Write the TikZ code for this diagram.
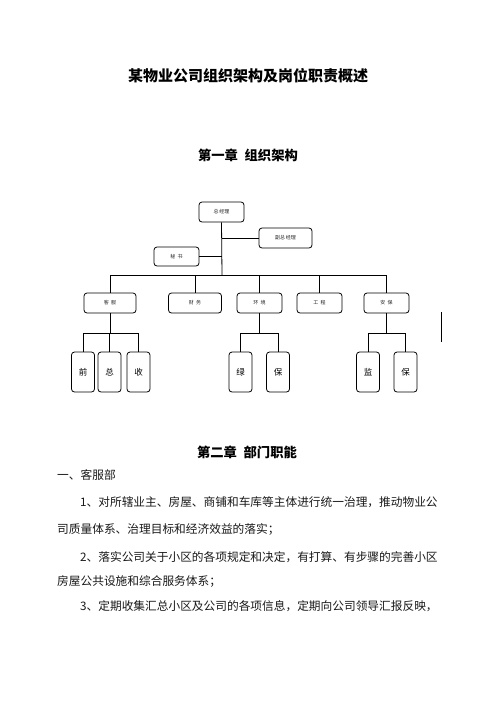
\documentclass[tikz,border=0pt]{standalone}
\usepackage{fontspec}
\newfontfamily\cjk{Noto Sans CJK SC}
\begin{document}
\begin{tikzpicture}[x=1pt,y=-1pt,
  box/.style={draw=black,line width=0.8pt,rounded corners=3pt,inner sep=0pt,font=\cjk\fontsize{5}{6}\selectfont,text=black!85},
  kid/.style={draw=black,line width=0.8pt,rounded corners=3pt,inner sep=0pt,minimum width=23pt,minimum height=40pt,font=\cjk\fontsize{8.5}{10}\selectfont},
  conn/.style={line width=0.8pt,draw=black},
  body/.style={anchor=west,inner sep=0pt,font=\cjk\fontsize{11.7}{14}\selectfont,text=black!90},
  head/.style={inner sep=0pt,font=\cjk\bfseries\fontsize{13.3}{16}\selectfont}]
\useasboundingbox (0,0) rectangle (496,702);
\fill[white] (0,0) rectangle (496,702);
% titles
\node[inner sep=0pt,font=\cjk\bfseries\fontsize{15}{18}\selectfont] (title) at (248,76) {某物业公司组织架构及岗位职责概述};
\node[head] (ch1) at (248,155) {第一章\hspace{0.5em}组织架构};
% top level
\node[box,minimum width=45pt,minimum height=20pt] (gm) at (221.5,212) {\raisebox{-4pt}{总\,经理}};
\node[box,minimum width=53pt,minimum height=20pt] (dgm) at (285.5,238) {\raisebox{-4pt}{副总\,经理}};
\node[box,minimum width=45pt,minimum height=19pt] (sec) at (176.5,256.5) {\raisebox{-3pt}{秘\ \ 书}};
\coordinate (bus) at (222,275);
\draw[conn] (gm.south) -- (bus);
\draw[conn] (gm.south |- dgm.west) -- (dgm.west);
\draw[conn] (sec.east) -- (gm.south |- sec.east);
% departments
\node[box,minimum width=52pt,minimum height=20pt] (d1) at (110,303) {\raisebox{-4pt}{客\ \ 服}};
\node[box,minimum width=53pt,minimum height=20pt] (d2) at (195,303) {\raisebox{-4pt}{财\ \ 务}};
\node[box,minimum width=45pt,minimum height=20pt] (d3) at (259.5,303) {\raisebox{-4pt}{环\ \ 境}};
\node[box,minimum width=45pt,minimum height=20pt] (d4) at (319.5,303) {\raisebox{-4pt}{工\ \ 程}};
\node[box,minimum width=45pt,minimum height=20pt] (d5) at (386.5,303) {\raisebox{-4pt}{安\ \ 保}};
\draw[conn] (d1.north |- bus) -- (d5.north |- bus);
\foreach \d in {d1,d2,d3,d4,d5} \draw[conn] (\d.north |- bus) -- (\d.north);
% children
\node[kid] (c11) at (83,372) {前};
\node[kid] (c12) at (109.5,372) {总};
\node[kid] (c13) at (138.5,372) {收};
\node[kid] (c31) at (240.5,372) {绿};
\node[kid] (c32) at (278,372) {保};
\node[kid] (c51) at (368,372) {监};
\node[kid] (c52) at (405.5,372) {保};
\coordinate (sb1) at (110,333);
\coordinate (sb3) at (259.5,333);
\coordinate (sb5) at (386.5,333);
\draw[conn] (d1.south) -- (sb1);
\draw[conn] (d3.south) -- (sb3);
\draw[conn] (d5.south) -- (sb5);
\draw[conn] (c11.north |- sb1) -- (c13.north |- sb1);
\draw[conn] (c31.north |- sb3) -- (c32.north |- sb3);
\draw[conn] (c51.north |- sb5) -- (c52.north |- sb5);
\foreach \c/\s in {c11/sb1,c12/sb1,c13/sb1,c31/sb3,c32/sb3,c51/sb5,c52/sb5} \draw[conn] (\c.north |- \s) -- (\c.north);
% stray mark
\draw[line width=0.8pt] (441,312) -- (441,342);
% chapter 2
\node[head] (ch2) at (247,452) {第二章\hspace{0.5em}部门职能};
\node[body] (s1) at (57,475) {一、客服部};
\node[body] (l1) at (80,502) {1、对所辖业主、房屋、商铺和车库等主体进行统一治理，推动物业公};
\node[body] (l2) at (57,529) {司质量体系、治理目标和经济效益的落实；};
\node[body] (l3) at (80,557) {2、落实公司关于小区的各项规定和决定，有打算、有步骤的完善小区};
\node[body] (l4) at (57,581) {房屋公共设施和综合服务体系；};
\node[body] (l5) at (80,606) {3、定期收集汇总小区及公司的各项信息，定期向公司领导汇报反映，};
\end{tikzpicture}
\end{document}
